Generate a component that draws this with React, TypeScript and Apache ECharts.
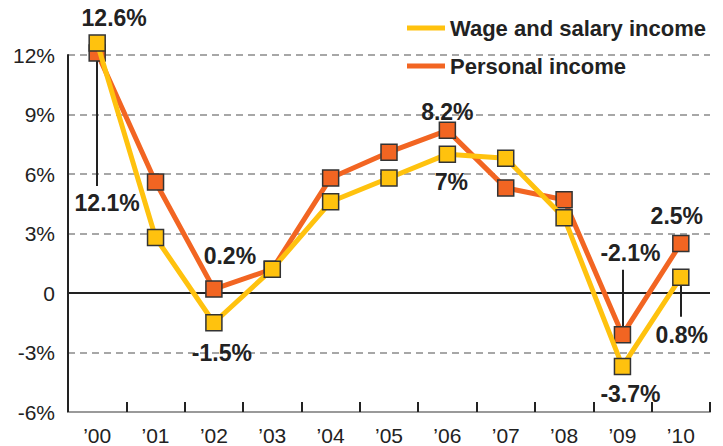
import React, { useEffect, useRef } from "react";
import * as echarts from "echarts";

const years = ["’00", "’01", "’02", "’03", "’04", "’05", "’06", "’07", "’08", "’09", "’10"];
const wageSalary = [12.6, 2.8, -1.5, 1.2, 4.6, 5.8, 7.0, 6.8, 3.8, -3.7, 0.8];
const personalIncome = [12.1, 5.6, 0.2, 1.2, 5.8, 7.1, 8.2, 5.3, 4.7, -2.1, 2.5];
const yTicks = { min: -6, max: 12, interval: 3 };

// labelled points: index -> offset of label centre from point centre
const wageLabels: Record<number, [number, number]> = {
  0: [17, -25],
  2: [8, 30],
  6: [4, 28],
  9: [8, 28],
  10: [1, 58],
};
const personalLabels: Record<number, [number, number]> = {
  0: [10, 150],
  2: [16, -33],
  6: [0, -18],
  9: [8, -82],
  10: [-4, -27],
};
// leader lines: [category index, from value, to value]
const leaders: [number, number, number][] = [
  [0, 11.7, 5.4],
  [9, -1.7, 1.17],
  [10, 0.4, -1.2],
];

const YELLOW = "#FFC20E";
const ORANGE = "#F26522";
const TEXT = "#222222";
const FONT = "'Liberation Sans', Arial, Helvetica, sans-serif";

function buildData(values: number[], labels: Record<number, [number, number]>) {
  return values.map((v, i) => {
    const off = labels[i];
    if (!off) return v;
    return {
      value: v,
      label: {
        show: true,
        position: "inside",
        offset: off,
        formatter: () => `${v}%`,
      },
    };
  });
}

export default function App() {
  const ref = useRef<HTMLDivElement>(null);
  useEffect(() => {
    if (!ref.current) return;
    const chart = echarts.init(ref.current, undefined, { renderer: "svg" });
    const labelStyle = {
      color: TEXT,
      fontFamily: FONT,
      fontWeight: "bold",
      fontSize: 23,
      align: "center",
      verticalAlign: "middle",
    };
    const blackLine = { color: TEXT, width: 2, type: "solid" };
    chart.setOption({
      animation: false,
      backgroundColor: "#ffffff",
      textStyle: { fontFamily: FONT },
      grid: { left: 68, right: 13, top: 55, bottom: 33, containLabel: false },
      legend: {
        data: ["Wage and salary income", "Personal income"],
        orient: "vertical",
        left: 402,
        top: 11,
        icon: "rect",
        itemWidth: 38,
        itemHeight: 5,
        itemGap: 14,
        itemStyle: { borderWidth: 0 },
        textStyle: {
          color: TEXT,
          fontFamily: FONT,
          fontWeight: "bold",
          fontSize: 22,
          lineHeight: 24,
        },
      },
      xAxis: {
        type: "category",
        data: years,
        boundaryGap: true,
        axisLine: { show: true, onZero: false, lineStyle: { color: "#9a9a9a", width: 2 } },
        axisTick: { show: true, inside: true, length: 10, lineStyle: { color: TEXT, width: 2 } },
        axisLabel: { color: TEXT, fontSize: 21, margin: 13, fontFamily: FONT },
        splitLine: { show: false },
      },
      yAxis: {
        type: "value",
        min: yTicks.min,
        max: yTicks.max,
        interval: yTicks.interval,
        axisLine: { show: true, lineStyle: { color: TEXT, width: 2 } },
        axisTick: { show: false },
        axisLabel: {
          color: TEXT,
          fontSize: 21,
          margin: 13,
          fontFamily: FONT,
          formatter: (v: number) => (v === 0 ? "0" : `${v}%`),
        },
        splitLine: { show: true, lineStyle: { color: "#8a8a8a", width: 1.5, type: [7, 5] } },
      },
      series: [
        {
          name: "Personal income",
          type: "line",
          data: buildData(personalIncome, personalLabels),
          clip: false,
          symbol: "rect",
          symbolSize: 16,
          lineStyle: { color: ORANGE, width: 5 },
          itemStyle: { color: ORANGE, borderColor: "#333333", borderWidth: 1.5 },
          label: { show: false, ...labelStyle },
          emphasis: { disabled: true },
          z: 3,
          markLine: {
            silent: true,
            symbol: "none",
            z: 1,
            label: { show: false },
            emphasis: { disabled: true },
            lineStyle: blackLine,
            data: [
              { yAxis: 0, lineStyle: blackLine },
              ...leaders.map(([i, a, b]) => [
                { coord: [i, a], lineStyle: blackLine },
                { coord: [i, b] },
              ]),
            ],
          },
        },
        {
          name: "Wage and salary income",
          type: "line",
          data: buildData(wageSalary, wageLabels),
          clip: false,
          symbol: "rect",
          symbolSize: 16,
          lineStyle: { color: YELLOW, width: 5 },
          itemStyle: { color: YELLOW, borderColor: "#333333", borderWidth: 1.5 },
          label: { show: false, ...labelStyle },
          emphasis: { disabled: true },
          z: 4,
        },
      ],
    });
    return () => chart.dispose();
  }, []);
  return <div ref={ref} style={{ width: 723, height: 446, position: "absolute", left: 0, top: 0 }} />;
}
